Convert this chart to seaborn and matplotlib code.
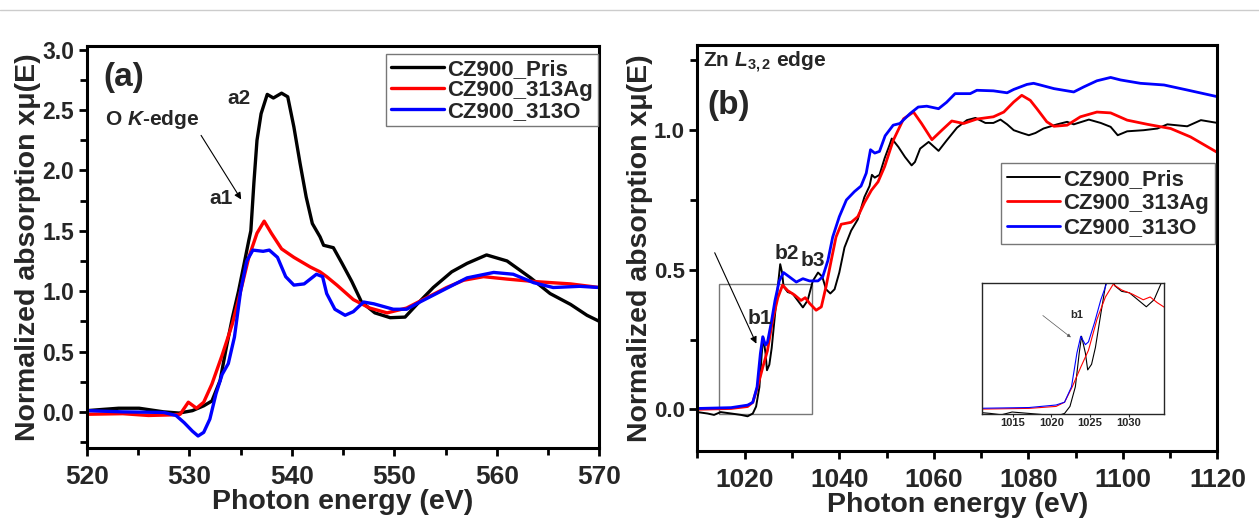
import numpy as np
import pandas as pd
import matplotlib
matplotlib.use("Agg")
import matplotlib.pyplot as plt
import seaborn as sns
from matplotlib.lines import Line2D
from matplotlib.patches import Rectangle

# ---- Panel (a): O K-edge ----
names = ["CZ900_Pris", "CZ900_313Ag", "CZ900_313O"]
colors = ["#000000", "#ff0000", "#0000ff"]

ok_pris_x = [520, 521.5, 523.1, 525.1, 527.5, 529.0, 530.3, 531.4, 532.2, 533.0, 533.6, 534.2,
             534.8, 535.4, 535.8, 536.0, 536.3, 536.6, 537.0, 537.6, 538.2, 539.0, 539.6, 540.2,
             540.8, 541.4, 542.0, 542.75, 543.1, 544.05, 544.9, 545.85, 546.8, 548.1, 549.6,
             551.05, 552.2, 553.8, 555.6, 557.1, 559.0, 561.0, 563.3, 565.2, 567.2, 568.8, 570.0]
ok_pris_y = [0.01, 0.02, 0.03, 0.03, 0.0, -0.01, 0.01, 0.05, 0.09, 0.26, 0.53, 0.78,
             1.0, 1.25, 1.42, 1.50, 1.90, 2.25, 2.47, 2.63, 2.60, 2.64, 2.61, 2.36,
             2.06, 1.78, 1.56, 1.45, 1.38, 1.36, 1.23, 1.08, 0.91, 0.82, 0.78,
             0.785, 0.89, 1.03, 1.16, 1.23, 1.30, 1.25, 1.11, 0.98, 0.89, 0.80, 0.75]

ok_ag_x = [520, 523.5, 526, 528.3, 529.1, 529.9, 530.7, 531.4, 532.2, 533.2, 534.2, 535.0,
           535.8, 536.6, 537.3, 538.0, 539.0, 540.2, 541.8, 542.75, 543.4, 544.4, 546.0, 547.6,
           549.3, 551.2, 552.8, 555.1, 556.75, 558.7, 561.0, 563.6, 567.2, 570.0]
ok_ag_y = [-0.02, -0.015, -0.03, -0.025, -0.02, 0.08, 0.03, 0.08, 0.23, 0.47, 0.73, 1.0,
           1.28, 1.48, 1.58, 1.48, 1.35, 1.28, 1.20, 1.16, 1.12, 1.05, 0.93, 0.86,
           0.82, 0.86, 0.93, 1.03, 1.09, 1.12, 1.10, 1.08, 1.06, 1.03]

ok_o_x = [520, 523.5, 527.5, 528.7, 529.5, 530.3, 530.85, 531.4, 532.0, 532.6, 533.2, 533.8,
          534.4, 535.0, 535.6, 536.2, 537.2, 537.8, 538.6, 539.4, 540.2, 541.2, 542.4, 543.0,
          543.4, 544.2, 545.2, 546.0, 547.0, 548.0, 549.9, 551.2, 552.5, 554.8, 557.1, 559.7,
          561.6, 563.6, 565.5, 568.1, 570.0]
ok_o_y = [0.01, 0.0, -0.005, -0.03, -0.09, -0.16, -0.2, -0.17, -0.06, 0.15, 0.31, 0.40,
          0.62, 1.0, 1.25, 1.34, 1.33, 1.34, 1.28, 1.12, 1.05, 1.06, 1.14, 1.12,
          0.98, 0.85, 0.80, 0.83, 0.91, 0.895, 0.85, 0.85, 0.91, 1.01, 1.11, 1.155,
          1.14, 1.07, 1.03, 1.04, 1.03]

# ---- Panel (b): Zn L3,2 edge ----
zn_pris_x = [1010, 1012.1, 1013.5, 1014.9, 1017.1, 1019.2, 1020.6, 1021.7, 1022.4, 1023.1, 1023.6,
             1023.9, 1024.4, 1024.7, 1025.2, 1025.7, 1026.4, 1027.0, 1027.5, 1027.9, 1028.2, 1029.1,
             1030.1, 1031.2, 1032.3, 1033.3, 1034.4, 1035.5, 1036.4, 1037.2, 1038.1, 1039.0, 1040.0,
             1041.1, 1042.5, 1043.9, 1045.3, 1046.4, 1046.9, 1047.5, 1048.5, 1049.6, 1050.7, 1051.1,
             1052.5, 1053.9, 1055.3, 1056.0, 1057.1, 1058.9, 1061.0, 1062.7, 1064.9, 1067.0, 1068.8,
             1070.9, 1072.6, 1074.1, 1075.5, 1076.9, 1078.6, 1080.1, 1081.5, 1083.2, 1086.1, 1088.2,
             1089.6, 1092.8, 1095.3, 1097.4, 1098.9, 1100.9, 1104.4, 1107.3, 1109.4, 1113.6, 1116.5, 1120]
zn_pris_y = [-0.01, -0.015, -0.02, -0.01, -0.015, -0.02, -0.025, -0.015, 0.01, 0.08, 0.20,
             0.26, 0.20, 0.14, 0.16, 0.22, 0.34, 0.44, 0.52, 0.49, 0.44, 0.42,
             0.415, 0.39, 0.365, 0.39, 0.46, 0.49, 0.475, 0.43, 0.415, 0.43, 0.49,
             0.58, 0.64, 0.68, 0.76, 0.80, 0.84, 0.83, 0.84, 0.90, 0.95, 0.97,
             0.94, 0.904, 0.874, 0.886, 0.934, 0.958, 0.926, 0.963, 1.009, 1.036, 1.044,
             1.026, 1.026, 1.038, 1.021, 1.0, 0.99, 0.982, 0.99, 1.006, 1.021, 1.03,
             1.021, 1.038, 1.026, 1.012, 0.982, 0.996, 1.0, 1.006, 1.021, 1.014, 1.036, 1.026]

zn_ag_x = [1010, 1017.1, 1020.6, 1021.7, 1022.7, 1023.8, 1024.8, 1025.9, 1027.0, 1028.0, 1029.1,
           1030.5, 1031.9, 1032.8, 1033.7, 1035.1, 1036.2, 1037.2, 1038.3, 1039.3, 1040.4, 1042.5,
           1043.9, 1045.3, 1046.8, 1048.2, 1049.6, 1051.4, 1053.6, 1055.7, 1057.4, 1059.6, 1061.7,
           1063.8, 1066.3, 1069.1, 1072.6, 1074.8, 1076.9, 1078.6, 1080.4, 1081.8, 1083.9, 1085.4,
           1088.2, 1091.0, 1094.5, 1097.4, 1100.9, 1105.2, 1110.1, 1114.3, 1120]
zn_ag_y = [0.0, 0.003, 0.01, 0.025, 0.08, 0.15, 0.21, 0.32, 0.40, 0.445, 0.425,
           0.41, 0.39, 0.40, 0.38, 0.355, 0.367, 0.44, 0.534, 0.617, 0.663, 0.67,
           0.69, 0.74, 0.785, 0.815, 0.87, 0.963, 1.041, 1.065, 1.024, 0.966, 1.0,
           1.033, 1.024, 1.04, 1.048, 1.065, 1.101, 1.125, 1.107, 1.077, 1.03, 1.014,
           1.018, 1.048, 1.065, 1.062, 1.036, 1.021, 1.006, 0.976, 0.92]

zn_o_x = [1010, 1017.1, 1020.6, 1021.7, 1022.6, 1023.3, 1023.8, 1024.4, 1024.8, 1025.6, 1026.4,
          1027.3, 1028.2, 1029.4, 1030.9, 1032.3, 1033.7, 1035.5, 1036.5, 1037.6, 1038.6, 1040.0,
          1041.5, 1043.2, 1044.6, 1045.7, 1046.6, 1047.5, 1048.5, 1049.7, 1051.4, 1052.8, 1055.0,
          1056.7, 1058.5, 1061.0, 1062.7, 1064.5, 1067.7, 1069.1, 1072.6, 1075.5, 1076.9, 1079.7,
          1081.1, 1082.5, 1085.4, 1089.6, 1091.7, 1094.5, 1097.4, 1099.5, 1103.7, 1108.7, 1113.6, 1120]
zn_o_y = [0.003, 0.006, 0.015, 0.025, 0.08, 0.20, 0.26, 0.23, 0.24, 0.31, 0.39,
          0.46, 0.49, 0.475, 0.456, 0.468, 0.46, 0.46, 0.475, 0.534, 0.617, 0.69,
          0.75, 0.78, 0.80, 0.846, 0.93, 0.918, 0.924, 0.98, 1.018, 1.024, 1.06,
          1.083, 1.086, 1.077, 1.10, 1.131, 1.131, 1.143, 1.141, 1.134, 1.146, 1.164,
          1.168, 1.162, 1.149, 1.137, 1.155, 1.177, 1.189, 1.18, 1.168, 1.162, 1.144, 1.12]


def long_form(xs, ys):
    frames = [pd.DataFrame({"E": x, "mu": y, "sample": n}) for x, y, n in zip(xs, ys, names)]
    return pd.concat(frames, ignore_index=True)


df_a = long_form([ok_pris_x, ok_ag_x, ok_o_x], [ok_pris_y, ok_ag_y, ok_o_y])
df_b = long_form([zn_pris_x, zn_ag_x, zn_o_x], [zn_pris_y, zn_ag_y, zn_o_y])
palette = dict(zip(names, colors))

sns.set_theme(style="ticks")
plt.rcParams["font.family"] = ["Liberation Sans", "DejaVu Sans"]
plt.rcParams["font.weight"] = "bold"
plt.rcParams["axes.labelweight"] = "bold"
plt.rcParams["mathtext.fontset"] = "custom"
plt.rcParams["mathtext.rm"] = "Liberation Sans:bold"
plt.rcParams["mathtext.bf"] = "Liberation Sans:bold"
plt.rcParams["mathtext.it"] = "Liberation Sans:bold:italic"

fig = plt.figure(figsize=(12.59, 5.18), dpi=100)
ax_a = fig.add_axes([0.069, 0.135, 0.407, 0.776])
ax_b = fig.add_axes([0.554, 0.129, 0.413, 0.784])

# faint line at the very top of the picture
fig.add_artist(Line2D([0, 1], [0.981, 0.981], color="#cccccc", lw=1))


def style_axes(ax, xmaj, xmin, ymaj, ymin, xlabsize, ylabsize):
    for s in ax.spines.values():
        s.set_linewidth(2.2)
        s.set_color("black")
    ax.xaxis.set_major_locator(plt.MultipleLocator(xmaj))
    ax.xaxis.set_minor_locator(plt.MultipleLocator(xmin))
    ax.yaxis.set_major_locator(plt.MultipleLocator(ymaj))
    ax.yaxis.set_minor_locator(plt.MultipleLocator(ymin))
    ax.tick_params(which="both", direction="out", width=2, color="black")
    ax.tick_params(which="major", length=6)
    ax.tick_params(which="minor", length=5)
    ax.tick_params(axis="x", labelsize=xlabsize, pad=6)
    ax.tick_params(axis="y", labelsize=ylabsize, pad=3)
    ax.set_xlabel("Photon energy (eV)", fontsize=20.5, fontweight="bold", labelpad=0)
    ax.set_ylabel("Normalized absorption x\u03bc(E)", fontsize=20.5, fontweight="bold", labelpad=1)


# ---- (a) ----
sns.lineplot(data=df_a, x="E", y="mu", hue="sample", palette=palette, sort=False,
             estimator=None, lw=2.4, legend=False, ax=ax_a)
ax_a.set_xlim(520, 570)
style_axes(ax_a, 10, 5, 0.5, 0.25, 19, 16.5)
ax_a.set_yticks([0.0, 0.5, 1.0, 1.5, 2.0, 2.5, 3.0])
ax_a.set_ylim(-0.30, 3.03)
ax_a.legend(ax_a.lines[:3], names, loc="upper right", bbox_to_anchor=(0.997, 0.98),
            borderaxespad=0, handlelength=2.4, handletextpad=0.15, labelspacing=0.0,
            borderpad=0.2, fancybox=False, edgecolor="#777777", framealpha=1,
            prop={"weight": "bold", "size": 16})
ax_a.text(521.6, 2.77, "(a)", fontsize=24, fontweight="bold", va="center")
ax_a.text(521.8, 2.42, "O $K$-edge", fontsize=15, fontweight="bold", va="center")
ax_a.text(534.8, 2.60, "a2", fontsize=15, fontweight="bold", ha="center", va="center")
ax_a.text(533.1, 1.77, "a1", fontsize=15, fontweight="bold", ha="center", va="center")
ax_a.annotate("", xy=(535.2, 1.74), xytext=(531.0, 2.31),
              arrowprops=dict(arrowstyle="-|>", color="black", lw=0.8, mutation_scale=10))

# ---- (b) ----
sns.lineplot(data=df_b, x="E", y="mu", hue="sample", palette=palette, sort=False,
             estimator=None, lw=2.0, legend=False, ax=ax_b)
ax_b.lines[0].set_linewidth(1.4)
ax_b.set_xlim(1010, 1120)
style_axes(ax_b, 20, 10, 0.5, 0.25, 19, 16)
ax_b.set_ylim(-0.15, 1.305)
ax_b.legend(ax_b.lines[:3], names, loc="upper right", bbox_to_anchor=(0.995, 0.709),
            borderaxespad=0, handlelength=2.4, handletextpad=0.15, labelspacing=0.15,
            borderpad=0.25, fancybox=False, edgecolor="#777777", framealpha=1,
            prop={"weight": "bold", "size": 16})
ax_b.text(1011.1, 1.244, "Zn $L_{3,2}$ edge", fontsize=15, fontweight="bold", va="center")
ax_b.text(1012.1, 1.09, "(b)", fontsize=24, fontweight="bold", va="center")
ax_b.text(1023.1, 0.326, "b1", fontsize=15, fontweight="bold", ha="center", va="center")
ax_b.text(1028.9, 0.559, "b2", fontsize=15, fontweight="bold", ha="center", va="center")
ax_b.text(1034.4, 0.534, "b3", fontsize=15, fontweight="bold", ha="center", va="center")
ax_b.annotate("", xy=(1022.7, 0.226), xytext=(1013.4, 0.57),
              arrowprops=dict(arrowstyle="-|>", color="black", lw=0.8, mutation_scale=10))
ax_b.add_patch(Rectangle((1014.6, -0.018), 19.6, 0.466, fill=False, edgecolor="#777777", lw=1))

# ---- inset ----
ax_in = fig.add_axes([0.780, 0.2008, 0.1446, 0.253])
sns.lineplot(data=df_b, x="E", y="mu", hue="sample", palette=palette, sort=False,
             estimator=None, lw=0.8, legend=False, ax=ax_in)
ax_in.set_xlim(1011, 1034.6)
ax_in.set_ylim(-0.017, 0.45)
ax_in.set_xlabel("")
ax_in.set_ylabel("")
ax_in.set_yticks([])
ax_in.xaxis.set_major_locator(plt.MultipleLocator(5))
ax_in.tick_params(axis="x", labelsize=8, length=2, width=0.8, pad=1)
for s in ax_in.spines.values():
    s.set_linewidth(1.0)
ax_in.text(1023.3, 0.335, "b1", fontsize=8, fontweight="bold", ha="center", va="center")
ax_in.annotate("", xy=(1022.8, 0.25), xytext=(1018.6, 0.34),
               arrowprops=dict(arrowstyle="-|>", color="#555555", lw=0.5, mutation_scale=5))

fig.savefig("out.png", dpi=100)
